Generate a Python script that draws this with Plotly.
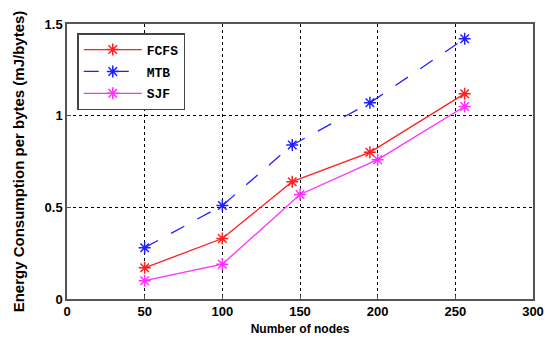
import plotly.graph_objects as go

nodes_fcfs = [50, 100, 145, 195, 256]
fcfs = [0.17, 0.33, 0.64, 0.80, 1.12]
nodes_mtb = [50, 100, 145, 195, 256]
mtb = [0.28, 0.51, 0.84, 1.07, 1.42]
nodes_sjf = [50, 100, 150, 200, 256]
sjf = [0.10, 0.19, 0.57, 0.76, 1.05]

x_ticks = [0, 50, 100, 150, 200, 250, 300]
y_ticks = [0, 0.5, 1, 1.5]
y_tick_text = ["0", "0.5", "1", "1.5"]

fig = go.Figure()
series = [
    ("FCFS", nodes_fcfs, fcfs, "#ff2020", "solid", "g1"),
    ("MTB", nodes_mtb, mtb, "#2020ff", "longdash", "g2"),
    ("SJF", nodes_sjf, sjf, "#ff30ff", "solid", "g3"),
]
for name, xs, ys, col, dash, grp in series:
    fig.add_trace(go.Scatter(
        x=xs, y=ys, name=name, mode="lines+markers", legendgroup=grp,
        line=dict(color=col, width=1.3, dash=dash),
        marker=dict(symbol="asterisk-open", size=10, color=col, line=dict(color=col, width=1.5)),
    ))

fig.update_layout(
    width=549, height=339,
    margin=dict(l=67, r=16, t=24, b=40),
    paper_bgcolor="white", plot_bgcolor="white",
    font=dict(family="Liberation Sans, Arial", color="black"),
    showlegend=True,
    legend=dict(
        x=0.022, y=0.967, xanchor="left", yanchor="top",
        bordercolor="#444", borderwidth=1.5, bgcolor="white",
        font=dict(family="Liberation Mono, Courier New", size=13, color="black", weight="bold"),
        tracegroupgap=2, itemwidth=58,
    ),
    xaxis=dict(
        range=[0, 300], tickvals=x_ticks, ticktext=[str(v) for v in x_ticks],
        showgrid=True, gridcolor="black", griddash="dot", gridwidth=1,
        showline=True, linecolor="#555", linewidth=1.5, mirror=True,
        ticks="inside", ticklen=4, tickcolor="#555",
        zeroline=False, automargin=False,
        tickfont=dict(size=13, family="Liberation Sans, Arial", weight="bold"),
        title=dict(text="Number of nodes", standoff=6,
                   font=dict(size=12, family="Liberation Sans, Arial", weight="bold")),
    ),
    yaxis=dict(
        range=[0, 1.5], tickvals=y_ticks, ticktext=y_tick_text,
        showgrid=True, gridcolor="black", griddash="dot", gridwidth=1,
        showline=True, linecolor="#555", linewidth=1.5, mirror=True,
        ticks="inside", ticklen=4, tickcolor="#555",
        zeroline=False, automargin=False,
        tickfont=dict(size=13, family="Liberation Sans, Arial", weight="bold"),
        title=dict(text="Energy Consumption per bytes (mJ/bytes)", standoff=16,
                   font=dict(size=15, family="Liberation Sans, Arial", weight="bold")),
    ),
)

fig.write_html("out.html", config={"displayModeBar": False},
               post_script="document.body.style.margin='0';")
